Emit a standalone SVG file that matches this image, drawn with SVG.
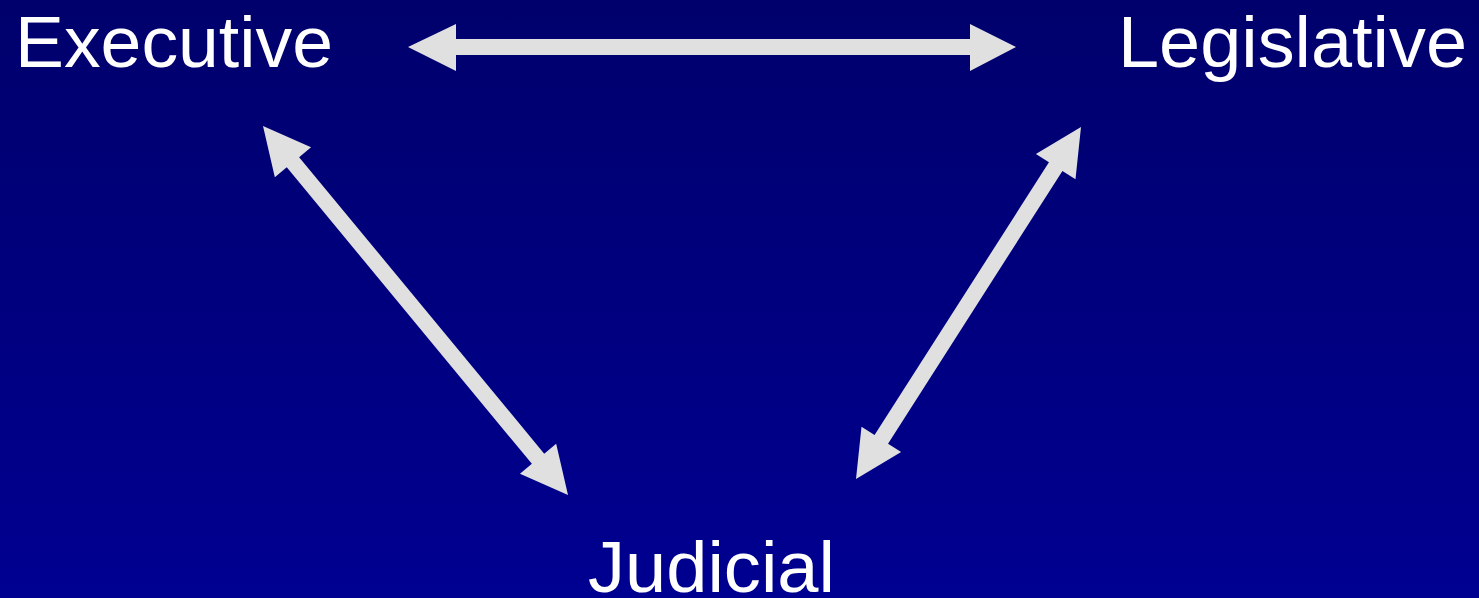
<svg xmlns="http://www.w3.org/2000/svg" width="1479" height="598" viewBox="0 0 1479 598">
<defs>
<linearGradient id="bg" x1="0" y1="0" x2="0" y2="1">
<stop offset="0" stop-color="#00006c"/>
<stop offset="1" stop-color="#000091"/>
</linearGradient>
<style>
.lbl{font-family:"Liberation Sans",Arial,sans-serif;font-size:73px;fill:#ffffff}
.arr{fill:#e0e0e0}
</style>
</defs>
<rect width="1479" height="598" fill="url(#bg)"/>
<g id="connectors">
<polygon class="arr" points="408,47 456,24 456,39 970,39 970,24 1016,47 970,71 970,55 456,55 456,71"/>
<polygon class="arr" points="263,126 311.05,147.26 299.11,157.13 544.23,453.67 556.17,443.8 568,495 519.95,473.74 531.89,463.87 286.77,167.33 274.83,177.2"/>
<polygon class="arr" points="1081,127 1035.89,153.95 1048.95,162.29 874.57,435.09 861.51,426.75 856,479 901.11,452.05 888.05,443.71 1062.43,170.91 1075.49,179.25"/>
</g>
<g id="executive"><text class="lbl" x="15" y="67" textLength="318" lengthAdjust="spacingAndGlyphs">Executive</text></g>
<g id="legislative"><text class="lbl" x="1118" y="67" textLength="349" lengthAdjust="spacingAndGlyphs">Legislative</text></g>
<g id="judicial"><text class="lbl" x="588" y="592" textLength="247" lengthAdjust="spacingAndGlyphs">Judicial</text></g>
</svg>
